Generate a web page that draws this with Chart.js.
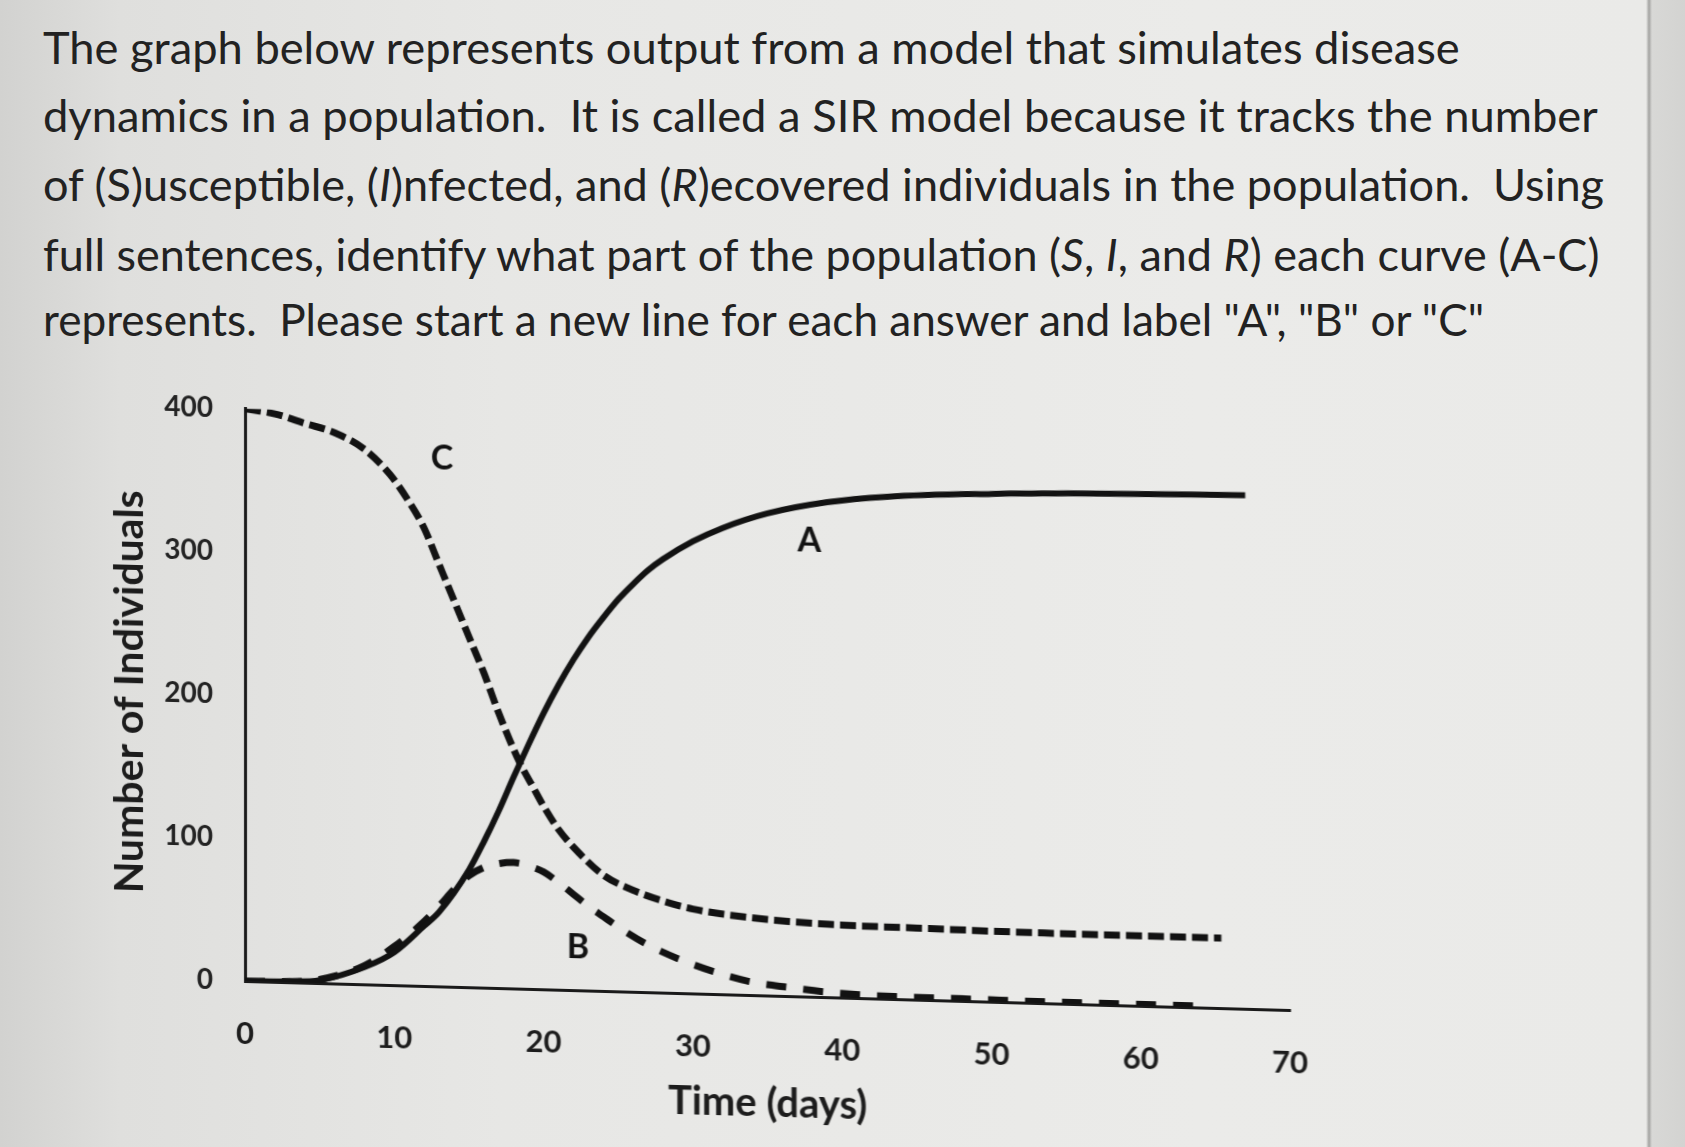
<!DOCTYPE html>
<html>
<head>
<meta charset="utf-8">
<script src="https://cdn.jsdelivr.net/npm/chart.js@4.4.1/dist/chart.umd.min.js"></script>
<style>
  html, body { margin: 0; padding: 0; }
  body {
    width: 1685px; height: 1147px; overflow: hidden; position: relative;
    background: linear-gradient(90deg, #d2d2d0 0px, #dfdfdd 120px, #e7e7e5 500px, #ebebe9 1200px,
      #eaeae8 1646px, #a4a4a2 1649px, #d8d8d6 1652px, #d3d3d1 1685px);
    font-family: Lato, "Open Sans", sans-serif;
  }
  .q { position: absolute; left: 43px; white-space: pre; color: #222; line-height: 1; }
  #plot {
    position: absolute; left: 0; top: 360px; width: 1400px; height: 787px;
    transform-origin: 245px 621px; transform: skewY(1.59deg);
  }
</style>
</head>
<body>
<div id="plot"><canvas id="sir" width="1400" height="787"></canvas></div>
<script>
// ---------- question text ----------
const questionLines = [
  'The graph below represents output from a model that simulates disease',
  'dynamics in a population.  It is called a SIR model because it tracks the number',
  'of (S)usceptible, (<i>I</i>)nfected, and (<i>R</i>)ecovered individuals in the population.  Using',
  'full sentences, identify what part of the population (<i>S</i>, <i>I</i>, and <i>R</i>) each curve (A-C)',
  'represents.  Please start a new line for each answer and label "A", "B" or "C"'
];
const lineWidths = [1418, 1555, 1565, 1564, 1445];
const lineCenters = [53, 121, 190, 261, 325];

// ---------- chart data ----------
const dayMin = 0, dayMax = 70, dayStep = 10;
const countMin = 0, countMax = 400, countStep = 100;

// A — solid curve
const aDays   = [0, 3, 5, 8, 10, 12, 13, 15, 16, 17, 18, 19, 20, 21, 22, 23, 24, 25, 26, 27, 28, 30, 32, 35, 39, 43, 50, 56, 67];
const aValues = [0, 0.5, 2, 12, 23, 42, 52, 82, 102, 124, 148, 171, 193, 213, 231, 247, 261, 274, 285, 295, 303, 316, 326, 337, 346, 351, 355, 357, 359];

// B — long dashes
const bDays   = [0, 3, 5, 8, 10, 12, 13, 14, 15, 16, 17, 18, 19, 20, 21, 22, 23, 24, 25, 27, 29, 31.6, 34, 36.5, 39, 42, 48, 55, 64];
const bValues = [0, 0.5, 2.5, 13, 27, 45, 56, 68, 78, 84, 87, 88, 86, 82, 75, 67, 59, 52, 45, 33, 24, 15, 9, 6, 3.5, 2, 1.5, 1, 1];

// C — short dashes
const cDays   = [0, 2, 4, 6, 8, 9.7, 11, 12, 13, 14, 15, 16, 17, 18.4, 19.3, 20, 21, 22, 24, 26, 28, 30, 34, 39, 45, 55, 65.4];
const cValues = [400, 397, 391, 385, 374, 357, 338, 320, 295, 270, 245, 220, 192, 158, 141, 128, 112, 100, 81, 71, 64, 59, 54, 51, 50, 49, 49];

// curve letters
const curveNames  = ['A', 'B', 'C'];
const labelDays   = [37.8, 22.3, 13.2];
const labelValues = [319, 30, 369];

// ---------- text ----------
const meas = document.createElement('canvas').getContext('2d');
meas.font = '100px Lato';
questionLines.forEach((html, i) => {
  const d = document.createElement('div');
  d.className = 'q';
  d.innerHTML = html;
  const w = meas.measureText(d.textContent).width;
  const fs = 100 * lineWidths[i] / w;
  d.style.fontSize = fs + 'px';
  d.style.top = (lineCenters[i] - 0.634 * fs) + 'px';
  document.body.appendChild(d);
});

// ---------- chart ----------
const pts = (xs, ys) => xs.map((x, i) => ({ x: x, y: ys[i] }));
const ink = '#121212';

const curveLabels = {
  id: 'curveLabels',
  afterDatasetsDraw(chart) {
    const { ctx, scales: { x, y } } = chart;
    ctx.save();
    ctx.font = 'bold 34px Lato';
    ctx.fillStyle = ink;
    ctx.textAlign = 'center';
    ctx.textBaseline = 'middle';
    curveNames.forEach((n, i) => {
      ctx.fillText(n, x.getPixelForValue(labelDays[i]), y.getPixelForValue(labelValues[i]));
    });
    ctx.restore();
  }
};

new Chart(document.getElementById('sir'), {
  type: 'line',
  plugins: [curveLabels],
  data: {
    datasets: [
      { label: 'A', data: pts(aDays, aValues), borderColor: ink, borderWidth: 6, cubicInterpolationMode: 'monotone' },
      { label: 'B', data: pts(bDays, bValues), borderColor: ink, borderWidth: 7, borderDash: [20, 17], cubicInterpolationMode: 'monotone' },
      { label: 'C', data: pts(cDays, cValues), borderColor: ink, borderWidth: 7, borderDash: [16, 6], cubicInterpolationMode: 'monotone' }
    ]
  },
  options: {
    responsive: false,
    animation: false,
    layout: { padding: { left: 100, top: 48, right: 110, bottom: 0 } },
    plugins: { legend: { display: false }, tooltip: { enabled: false } },
    elements: { point: { radius: 0 } },
    scales: {
      x: {
        type: 'linear', min: dayMin, max: dayMax,
        grid: { display: false, drawTicks: false },
        border: { display: true, color: '#1a1a1a', width: 3 },
        ticks: { stepSize: dayStep, padding: 34, color: '#1c1c1c', maxRotation: 0,
                 font: { family: 'Lato', size: 31, weight: 'bold' } },
        title: { display: true, text: 'Time (days)', color: '#1c1c1c',
                 font: { family: 'Lato', size: 40, weight: 'bold' }, padding: { top: 0, bottom: 34 } },
        afterFit(s) { s.height = 166; }
      },
      y: {
        min: countMin, max: countMax,
        grid: { display: false, drawTicks: false },
        border: { display: true, color: '#1a1a1a', width: 3 },
        ticks: { stepSize: countStep, padding: 32, color: '#222',
                 font: { family: 'Lato', size: 28, weight: 'bold' } },
        title: { display: true, text: 'Number of Individuals', color: '#1c1c1c',
                 font: { family: 'Lato', size: 41, weight: 'bold' }, padding: { top: 5, bottom: 0 } },
        afterFit(s) { s.width = 145; }
      }
    }
  }
});
</script>
</body>
</html>
